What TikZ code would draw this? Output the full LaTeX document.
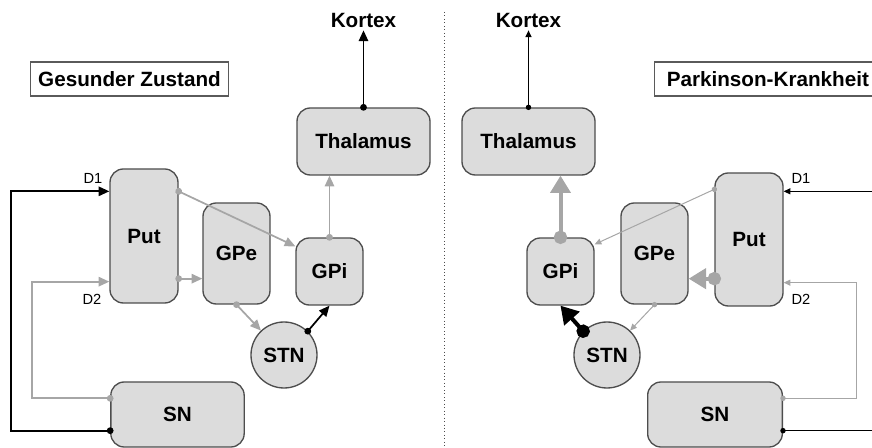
\documentclass[tikz,border=0pt]{standalone}
\usepackage{fontspec}
\setmainfont{Liberation Sans}
\usetikzlibrary{arrows.meta,calc}

\tikzset{every picture/.style={line width=0.75pt}}
\tikzset{
  part/.style={draw={rgb, 255:red, 77; green, 77; blue, 77 }, fill={rgb, 255:red, 220; green, 220; blue, 220 }, line width=1pt, rounded corners=10pt, inner sep=0pt, font=\fontsize{15.5}{18}\selectfont\bfseries},
  nucleus/.style={part, circle, minimum size=49.5pt},
  headbox/.style={draw={rgb, 255:red, 90; green, 90; blue, 90 }, fill=white, line width=0.8pt, inner xsep=6pt, inner ysep=0pt, minimum height=25.5pt, font=\fontsize{15.5}{18}\selectfont\bfseries},
  tag/.style={inner sep=2pt, font=\fontsize{15.5}{18}\selectfont\bfseries},
  dlabel/.style={inner sep=0pt, font=\fontsize{11}{13}\selectfont},
  grey/.style={draw={rgb, 255:red, 166; green, 166; blue, 166 }},
  link/.style={line width=1.3pt, {Circle[length=5pt]}-{Triangle[length=8pt,width=7pt]}, shorten <=-2.5pt},
  weak/.style={line width=0.75pt, {Circle[length=4pt]}-{Triangle[length=5pt,width=4.5pt]}, shorten <=-2pt},
  strong/.style={line width=3pt, {Circle[length=10pt]}-{Triangle[length=13pt,width=15pt]}, shorten <=-5pt}
}

\begin{document}
\begin{tikzpicture}[x=0.75pt,y=0.75pt,yscale=-1,xscale=1]
		\clip (0,0) rectangle (872,448);
		
		%Straight Lines: separator
		\draw  [dotted, line width=0.6pt, black!70]  (444,12) -- (444,448) ;
		
		% ---- Gesunder Zustand ----
		\node [headbox] (stateL) at (129.5,79) {Gesunder Zustand};
		\node [part, minimum width=51pt, minimum height=100.5pt] (putL) at (144,236) {Put};
		\node [part, minimum width=50.25pt, minimum height=75.75pt] (gpeL) at (236.5,253.5) {GPe};
		\node [part, minimum width=50.25pt, minimum height=50.25pt] (gpiL) at (329.5,271.5) {GPi};
		\node [part, minimum width=99.75pt, minimum height=50.25pt] (thalL) at (363.5,141.5) {Thalamus};
		\node [nucleus] (stnL) at (284,355) {STN};
		\node [part, minimum width=100pt, minimum height=48.75pt] (snL) at (177.5,414.5) {SN};
		% Text Node
		\node [tag] (kortexL) at (363.5,20) {Kortex};
		% Text Node
		\node [dlabel] (d1L) at (93,178) {D1};
		% Text Node
		\node [dlabel] (d2L) at (92,299) {D2};
		
		\draw [link]  (thalL.north) -- (thalL.north |- kortexL.south) ;
		\draw [link, grey]  ($(putL.north east)+(0,23)$) -- ($(gpiL.north west)+(0,9)$) ;
		\draw [link, grey]  ($(putL.south east)+(0,-25)$) -- ($(gpeL.south west)+(0,-26)$) ;
		\draw [link, grey]  (gpeL.south) -- (stnL) ;
		\draw [link]  (stnL.north east) -- (gpiL.south) ;
		\draw [link, grey]  (gpiL.north) -- (thalL.south -| gpiL.north) ;
		\draw [link]  ($(snL.south west)+(0,-17)$) -- ++(-99,0) |- ($(putL.north west)+(0,23)$) ;
		\draw [link, grey]  ($(snL.north west)+(0,17)$) -- ++(-78,0) |- ($(putL.south west)+(0,-22)$) ;
		
		% ---- Parkinson-Krankheit ----
		\node [headbox, anchor=west, minimum width=170pt] (stateR) at (654,79) {Parkinson-Krankheit};
		\node [part, minimum width=51pt, minimum height=99.75pt] (putR) at (749,239.5) {Put};
		\node [part, minimum width=50.25pt, minimum height=75.75pt] (gpeR) at (654.5,253.5) {GPe};
		\node [part, minimum width=50.25pt, minimum height=50.25pt] (gpiR) at (560.5,271.5) {GPi};
		\node [part, minimum width=99.75pt, minimum height=50.25pt] (thalR) at (528.5,141.5) {Thalamus};
		\node [nucleus] (stnR) at (607,355) {STN};
		\node [part, minimum width=101pt, minimum height=48.75pt] (snR) at (715,414.5) {SN};
		% Text Node
		\node [tag] (kortexR) at (528.5,20) {Kortex};
		% Text Node
		\node [dlabel] (d1R) at (801,178) {D1};
		% Text Node
		\node [dlabel] (d2R) at (801,299) {D2};
		
		\draw [weak]  (thalR.north) -- (thalR.north |- kortexR.south) ;
		\draw [weak, -{Triangle[length=5pt,width=4.5pt]}]  ($(putR.north east)+(92,19)$) -- ($(putR.north east)+(0,19)$) ;
		\draw [weak, {Circle[length=4pt]}-]  ($(snR.south east)+(0,-17)$) -- ++(92,0) ;
		\draw [weak, grey]  ($(snR.north east)+(0,17)$) -- ++(73,0) |- ($(putR.south east)+(0,-24)$) ;
		\draw [weak, grey]  ($(putR.north west)+(0,17)$) -- ($(gpiR.north east)+(0,7)$) ;
		\draw [strong, grey]  ($(putR.south west)+(0,-28)$) -- ($(gpeR.south east)+(0,-26)$) ;
		\draw [weak, grey]  (gpeR.south) -- (stnR) ;
		\draw [strong]  (stnR.north west) -- (gpiR.south) ;
		\draw [strong, grey]  (gpiR.north) -- (thalR.south -| gpiR.north) ;
		
\end{tikzpicture}
\end{document}
